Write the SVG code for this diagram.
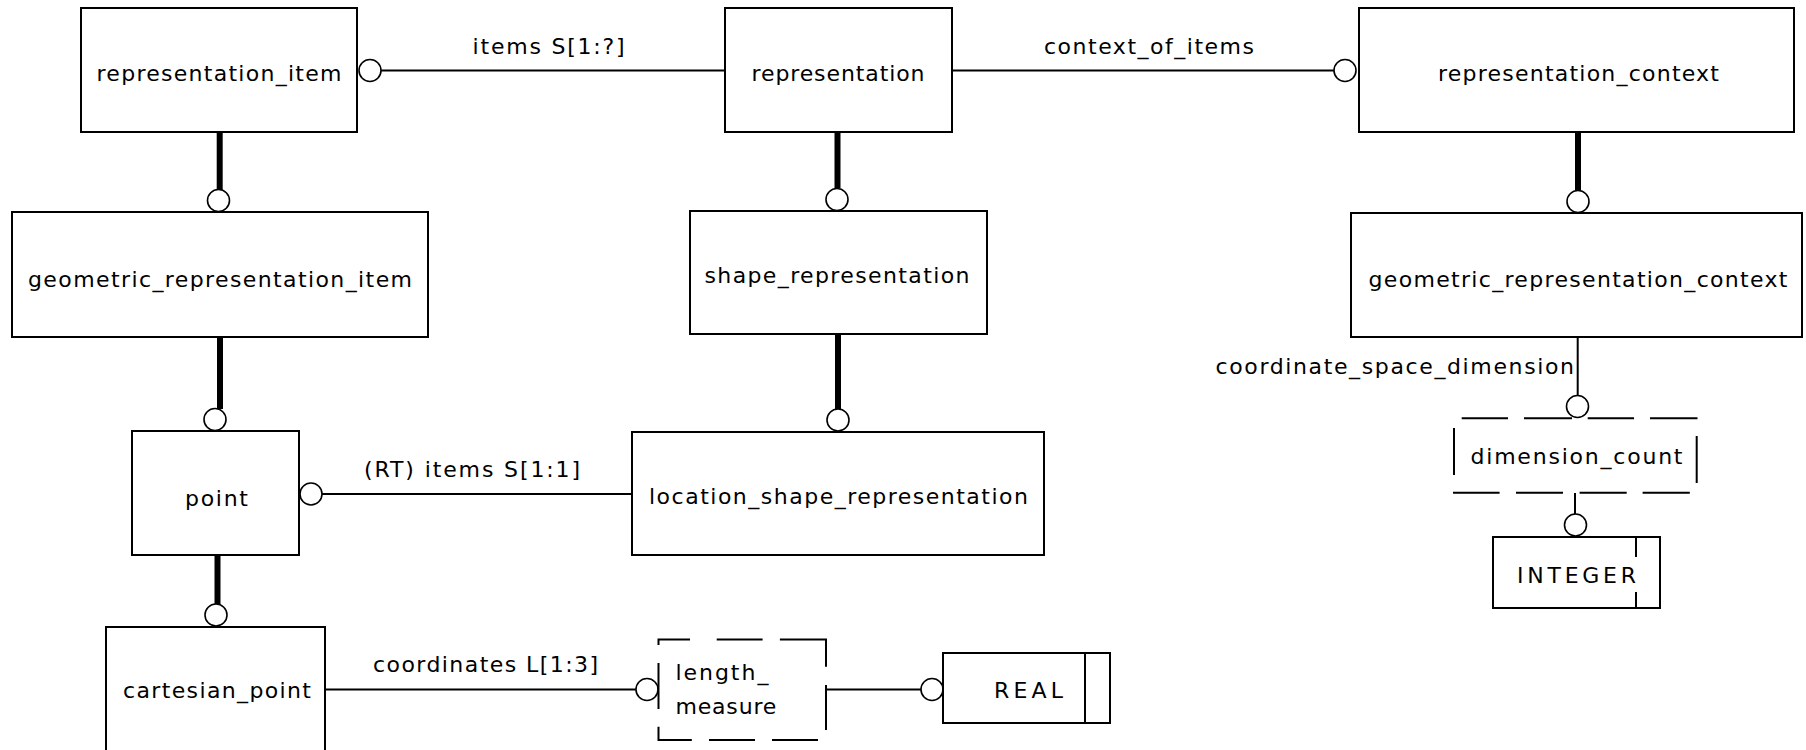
<svg xmlns="http://www.w3.org/2000/svg" width="1806" height="750" viewBox="0 0 1806 750">
<style>
  .box { fill: #fff; stroke: #000; stroke-width: 2; }
  .dash { fill: none; stroke: #000; stroke-width: 2; }
  .t { font-family: "DejaVu Sans", "Liberation Sans", sans-serif; font-size: 22px; fill: #000; }
  .m { text-anchor: middle; }
  .thin { stroke: #000; stroke-width: 2; fill: none; }
  .thick { stroke: #000; stroke-width: 6; fill: none; }
  .c { fill: #fff; stroke: #000; stroke-width: 1.6; }
</style>
<rect width="1806" height="750" fill="#fff"/>

<g id="connectors">
  <!-- representation_item -> representation (items S[1:?]) -->
  <line class="thin" x1="381" y1="70.5" x2="725" y2="70.5"/>
  <circle class="c" cx="370" cy="70.5" r="11"/>
  <text class="t" x="472.6" y="54" textLength="152" lengthAdjust="spacing">items  S[1:?]</text>

  <!-- representation -> representation_context -->
  <line class="thin" x1="952" y1="70.5" x2="1334" y2="70.5"/>
  <circle class="c" cx="1345" cy="70.5" r="11"/>
  <text class="t" x="1044" y="54" textLength="210" lengthAdjust="spacing">context_of_items</text>

  <!-- subtype lines -->
  <line class="thick" x1="219.7" y1="132" x2="219.7" y2="190"/>
  <circle class="c" cx="218.5" cy="200.5" r="11"/>

  <line class="thick" x1="837.5" y1="132" x2="837.5" y2="188"/>
  <circle class="c" cx="837" cy="199.5" r="11"/>

  <line class="thick" x1="1578" y1="132" x2="1578" y2="190"/>
  <circle class="c" cx="1578" cy="201.5" r="11"/>

  <line class="thick" x1="220" y1="337" x2="220" y2="409"/>
  <circle class="c" cx="215" cy="419.5" r="11"/>

  <line class="thick" x1="217.5" y1="555" x2="217.5" y2="604"/>
  <circle class="c" cx="216" cy="615" r="11"/>

  <line class="thick" x1="838" y1="334" x2="838" y2="409"/>
  <circle class="c" cx="838" cy="420" r="11"/>

  <!-- geometric_representation_context -> dimension_count -->
  <line class="thin" x1="1577.7" y1="337" x2="1577.7" y2="395"/>
  <circle class="c" cx="1577.5" cy="406.5" r="11"/>
  <text class="t" x="1215.5" y="374" textLength="358.5" lengthAdjust="spacing">coordinate_space_dimension</text>

  <!-- dimension_count -> INTEGER -->
  <line class="thin" x1="1575" y1="493" x2="1575" y2="514"/>
  <circle class="c" cx="1575.5" cy="525" r="11"/>

  <!-- point <- location_shape_representation -->
  <line class="thin" x1="322" y1="494" x2="632" y2="494"/>
  <circle class="c" cx="311" cy="494" r="11"/>
  <text class="t" x="364" y="477" textLength="216" lengthAdjust="spacing">(RT) items  S[1:1]</text>

  <!-- cartesian_point -> length_measure -->
  <line class="thin" x1="325" y1="689.5" x2="636" y2="689.5"/>
  <circle class="c" cx="647" cy="689.5" r="11"/>
  <text class="t" x="373" y="672" textLength="225" lengthAdjust="spacing">coordinates  L[1:3]</text>

  <!-- length_measure -> REAL -->
  <line class="thin" x1="826" y1="689.5" x2="921" y2="689.5"/>
  <circle class="c" cx="932" cy="689.5" r="11"/>
</g>

<g id="representation_item">
  <rect class="box" x="81" y="8" width="276" height="124"/>
  <text class="t m" x="219" y="81" textLength="245" lengthAdjust="spacing">representation_item</text>
</g>

<g id="representation">
  <rect class="box" x="725" y="8" width="227" height="124"/>
  <text class="t m" x="838" y="81" textLength="173" lengthAdjust="spacing">representation</text>
</g>

<g id="representation_context">
  <rect class="box" x="1359" y="8" width="435" height="124"/>
  <text class="t m" x="1578.5" y="81" textLength="281" lengthAdjust="spacing">representation_context</text>
</g>

<g id="geometric_representation_item">
  <rect class="box" x="12" y="212" width="416" height="125"/>
  <text class="t m" x="220" y="287" textLength="384" lengthAdjust="spacing">geometric_representation_item</text>
</g>

<g id="shape_representation">
  <rect class="box" x="690" y="211" width="297" height="123"/>
  <text class="t m" x="837" y="283" textLength="265" lengthAdjust="spacing">shape_representation</text>
</g>

<g id="geometric_representation_context">
  <rect class="box" x="1351" y="213" width="451" height="124"/>
  <text class="t m" x="1578" y="287" textLength="419" lengthAdjust="spacing">geometric_representation_context</text>
</g>

<g id="point">
  <rect class="box" x="132" y="431" width="167" height="124"/>
  <text class="t m" x="216.5" y="506" textLength="63" lengthAdjust="spacing">point</text>
</g>

<g id="location_shape_representation">
  <rect class="box" x="632" y="432" width="412" height="123"/>
  <text class="t m" x="838.5" y="504" textLength="379" lengthAdjust="spacing">location_shape_representation</text>
</g>

<g id="cartesian_point">
  <rect class="box" x="106" y="627" width="219" height="125"/>
  <text class="t m" x="217" y="698" textLength="188" lengthAdjust="spacing">cartesian_point</text>
</g>

<g id="length_measure">
  <path class="dash" d="M658.5,645 V639.5 H690 M716.7,639.5 H762.6 M779.9,639.5 H826 V666.7 M826,685 V730 M818,740 H772 M755,740 H709 M691.8,740 H658.5 V726.7 M658.5,709 V663"/>
  <text class="t" x="675.4" y="680" textLength="93" lengthAdjust="spacing">length_</text>
  <text class="t" x="675.4" y="714" textLength="101" lengthAdjust="spacing">measure</text>
</g>

<g id="REAL">
  <rect class="box" x="943" y="653" width="167" height="70"/>
  <line class="thin" x1="1085" y1="653" x2="1085" y2="723"/>
  <text class="t" x="994" y="698" textLength="69" lengthAdjust="spacing">REAL</text>
</g>

<g id="dimension_count">
  <path class="dash" d="M1461.7,418.3 H1508 M1524,418.3 H1572 M1587.7,418.3 H1634 M1650,418.3 H1697.5 M1454,428 V475 M1696.7,436 V483 M1453,492.7 H1499.6 M1516,492.7 H1563 M1579.6,492.7 H1626.7 M1642.6,492.7 H1689.8"/>
  <text class="t m" x="1576.5" y="464" textLength="212" lengthAdjust="spacing">dimension_count</text>
</g>

<g id="INTEGER">
  <rect class="box" x="1493" y="537" width="167" height="71"/>
  <line class="thin" x1="1636" y1="537" x2="1636" y2="557"/>
  <line class="thin" x1="1636" y1="592" x2="1636" y2="608"/>
  <text class="t" x="1517" y="583" textLength="119" lengthAdjust="spacing">INTEGER</text>
</g>
</svg>
